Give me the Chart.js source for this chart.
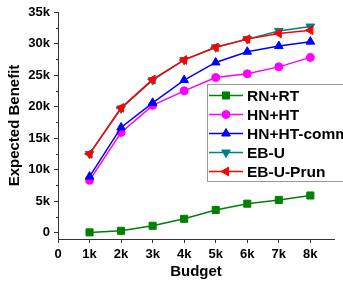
<!DOCTYPE html>
<html>
<head>
<meta charset="utf-8">
<script src="https://cdn.jsdelivr.net/npm/chart.js"></script>
<style>
  html, body { margin: 0; padding: 0; background: #fff; }
  #chart { display: block; }
</style>
</head>
<body>
<canvas id="chart" width="343" height="282"></canvas>
<script>
// ===== DATA =====
const budget = [1000, 2000, 3000, 4000, 5000, 6000, 7000, 8000];
const seriesNames = ["RN+RT", "HN+HT", "HN+HT-comm", "EB-U", "EB-U-Prun"];
const rnRt = [50, 300, 1100, 2200, 3600, 4600, 5200, 5900];
const hnHt = [8300, 15900, 20200, 22500, 24600, 25200, 26300, 27800];
const hnHtComm = [8900, 16700, 20600, 24200, 27000, 28700, 29600, 30300];
const ebU = [12500, 19700, 24200, 27400, 29400, 30700, 32000, 32700];
const ebUPrun = [12500, 19800, 24300, 27400, 29400, 30700, 31600, 32100];
const xTickValues = [0, 1000, 2000, 3000, 4000, 5000, 6000, 7000, 8000];
const xTickLabels = ["0", "1k", "2k", "3k", "4k", "5k", "6k", "7k", "8k"];
const yTickValues = [0, 5000, 10000, 15000, 20000, 25000, 30000, 35000];
const yTickLabels = ["0", "5k", "10k", "15k", "20k", "25k", "30k", "35k"];

// ===== STYLES =====
const colors = ["#008000", "#ff00ff", "#0000ff", "#008080", "#ff0000"];
const markers = ["rect", "circle", "triangle", "triangle", "triangle"];
const markerRot = [0, 0, 0, 180, 270];
const markerSize = [5, 4, 5, 5, 5];
const allSeries = [rnRt, hnHt, hnHtComm, ebU, ebUPrun];

const FONT = "'Liberation Sans', Arial, sans-serif";

function toPoints(values) {
  return values.map((v, i) => ({ x: budget[i], y: v }));
}

const datasets = allSeries.map((values, i) => ({
  label: seriesNames[i],
  data: toPoints(values),
  borderColor: colors[i],
  backgroundColor: colors[i],
  borderWidth: 1.5,
  pointStyle: markers[i],
  pointRotation: markerRot[i],
  pointRadius: markerSize[i],
  pointBorderWidth: 1,
  tension: 0,
  order: allSeries.length - i
}));

// ===== MINOR TICKS + LEGEND =====
const extras = {
  id: "extras",
  afterDraw(chart) {
    const ctx = chart.ctx;
    const y = chart.scales.y;
    const area = chart.chartArea;

    // minor ticks on y axis
    ctx.save();
    ctx.strokeStyle = "#333";
    ctx.lineWidth = 1;
    for (let i = 0; i < yTickValues.length - 1; i++) {
      const mid = (yTickValues[i] + yTickValues[i + 1]) / 2;
      const py = Math.round(y.getPixelForValue(mid)) + 0.5;
      ctx.beginPath();
      ctx.moveTo(area.left - 2, py);
      ctx.lineTo(area.left, py);
      ctx.stroke();
    }
    ctx.restore();

    // legend box
    const bx = 207, by = 84, bw = 160, bh = 97, rowH = 19;
    ctx.save();
    ctx.fillStyle = "#fff";
    ctx.fillRect(bx, by, bw, bh);
    ctx.strokeStyle = "#999";
    ctx.lineWidth = 1;
    ctx.strokeRect(bx + 0.5, by + 0.5, bw, bh);

    ctx.font = "bold 15.5px " + FONT;
    ctx.textBaseline = "middle";
    ctx.textAlign = "left";
    seriesNames.forEach((name, i) => {
      const ry = by + 11.5 + i * rowH;
      ctx.strokeStyle = colors[i];
      ctx.lineWidth = 1.5;
      ctx.beginPath();
      ctx.moveTo(209, ry);
      ctx.lineTo(243, ry);
      ctx.stroke();
      ctx.fillStyle = colors[i];
      ctx.strokeStyle = colors[i];
      ctx.lineWidth = 1;
      Chart.helpers.drawPoint(ctx, {
        pointStyle: markers[i],
        radius: markerSize[i],
        rotation: markerRot[i],
        borderWidth: 1
      }, 226, ry);
      ctx.fillStyle = "#000";
      ctx.fillText(name, 247, ry + 1);
    });
    ctx.restore();
  }
};

// ===== CHART =====
const ctx = document.getElementById("chart").getContext("2d");

new Chart(ctx, {
  type: "line",
  data: { datasets: datasets },
  options: {
    responsive: false,
    animation: false,
    layout: { padding: { top: 12, right: 9, left: 0, bottom: 0 } },
    plugins: {
      legend: { display: false },
      tooltip: { enabled: false }
    },
    scales: {
      x: {
        type: "linear",
        min: 0,
        max: 8750,
        afterFit: s => { s.height = 43; },
        afterBuildTicks: s => { s.ticks = xTickValues.map(v => ({ value: v })); },
        border: { display: true, color: "#333", width: 1 },
        grid: { display: true, drawOnChartArea: false, drawTicks: true, tickLength: 4, tickColor: "#333" },
        ticks: {
          autoSkip: false,
          maxRotation: 0,
          padding: 4,
          color: "#000",
          font: { family: FONT, size: 13, weight: "bold" },
          callback: (v, i) => xTickLabels[i]
        },
        title: {
          display: true,
          text: "Budget",
          color: "#000",
          padding: { top: 0, bottom: 1 },
          font: { family: FONT, size: 15, weight: "bold" }
        }
      },
      y: {
        type: "linear",
        min: -1000,
        max: 35000,
        afterFit: s => { s.width = 58; },
        afterBuildTicks: s => { s.ticks = yTickValues.map(v => ({ value: v })); },
        border: { display: true, color: "#333", width: 1 },
        grid: { display: true, drawOnChartArea: false, drawTicks: true, tickLength: 4, tickColor: "#333" },
        ticks: {
          autoSkip: false,
          padding: 4,
          color: "#000",
          font: { family: FONT, size: 13, weight: "bold" },
          callback: (v, i) => yTickLabels[i]
        },
        title: {
          display: true,
          text: "Expected Benefit",
          color: "#000",
          padding: { top: 6, bottom: 0 },
          font: { family: FONT, size: 15, weight: "bold" }
        }
      }
    }
  },
  plugins: [extras]
});
</script>
</body>
</html>
